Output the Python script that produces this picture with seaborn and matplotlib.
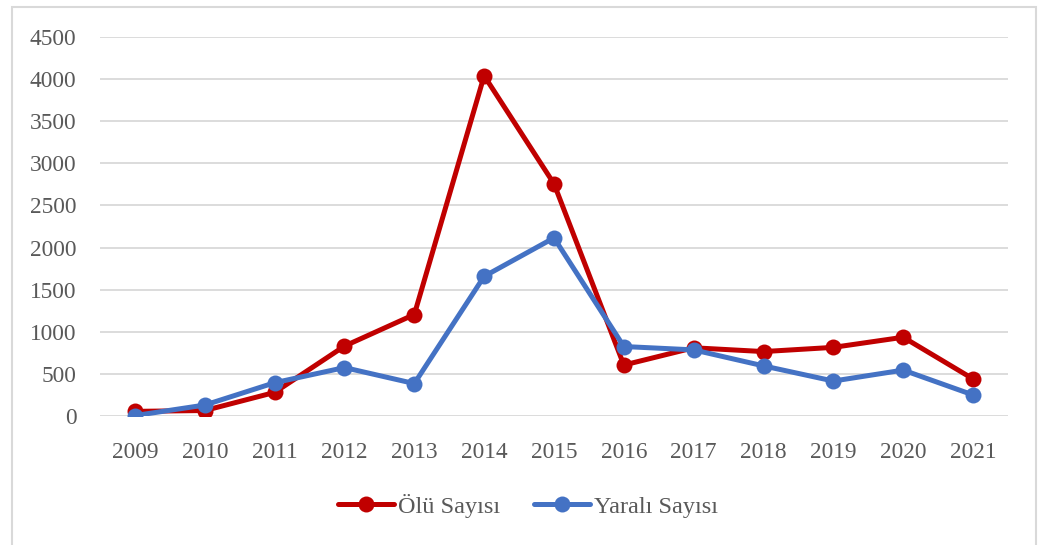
import pandas as pd
import seaborn as sns
import matplotlib.pyplot as plt
from matplotlib.patches import Rectangle

# Data
years = ["2009", "2010", "2011", "2012", "2013", "2014", "2015",
         "2016", "2017", "2018", "2019", "2020", "2021"]
olu = [55, 65, 280, 830, 1205, 4040, 2757, 605, 810, 765, 815, 935, 440]
yarali = [5, 130, 395, 575, 385, 1658, 2115, 825, 785, 595, 415, 545, 250]
series_names = ["Ölü Sayısı", "Yaralı Sayısı"]
y_ticks = [0, 500, 1000, 1500, 2000, 2500, 3000, 3500, 4000, 4500]

COLORS = ["#C00000", "#4472C4"]
TEXT_GRAY = "#595959"
GRID_GRAY = "#D9D9D9"


def build_frame():
    """Long-format frame for seaborn."""
    df = pd.DataFrame({"Yıl": years, series_names[0]: olu, series_names[1]: yarali})
    return df.melt(id_vars="Yıl", var_name="Seri", value_name="Sayı")


def main():
    sns.set_theme(style="white")
    plt.rcParams["font.family"] = ["Liberation Serif", "DejaVu Serif"]

    df = build_frame()

    fig = plt.figure(figsize=(10.41, 5.45), dpi=100)
    ax = fig.add_axes([100 / 1041, 1 - 416 / 545, 908 / 1041, 379 / 545])

    sns.lineplot(data=df, x="Yıl", y="Sayı", hue="Seri", palette=COLORS,
                 marker="o", markersize=11.5, markeredgewidth=0, linewidth=3.6,
                 sort=False, ax=ax, legend=True)

    ax.set_xlim(-0.5, len(years) - 0.5)
    ax.set_ylim(0, 4500)
    ax.set_yticks(y_ticks)
    ax.yaxis.grid(True, color=GRID_GRAY, linewidth=1.3)
    ax.set_axisbelow(True)
    for s in ax.spines.values():
        s.set_visible(False)
    ax.set_xlabel("")
    ax.set_ylabel("")
    ax.tick_params(axis="both", length=0, labelsize=16.8, colors=TEXT_GRAY)
    ax.tick_params(axis="y", pad=17)
    ax.tick_params(axis="x", pad=19)

    handles, labels = ax.get_legend_handles_labels()
    ax.get_legend().remove()
    fig.legend(handles, labels, loc="center", bbox_to_anchor=(528 / 1041, 1 - 506 / 545),
               ncol=2, frameon=False, fontsize=17.5, labelcolor=TEXT_GRAY,
               handlelength=2.3, handletextpad=0.15, columnspacing=1.4)

    # light chart border
    fig.patches.append(Rectangle((12 / 1041, -0.01), 1024 / 1041, 1 - 7 / 545 + 0.01,
                                 transform=fig.transFigure, fill=False,
                                 edgecolor=GRID_GRAY, linewidth=1.5))

    fig.savefig("out.png", dpi=100)
    plt.close(fig)


if __name__ == "__main__":
    main()
